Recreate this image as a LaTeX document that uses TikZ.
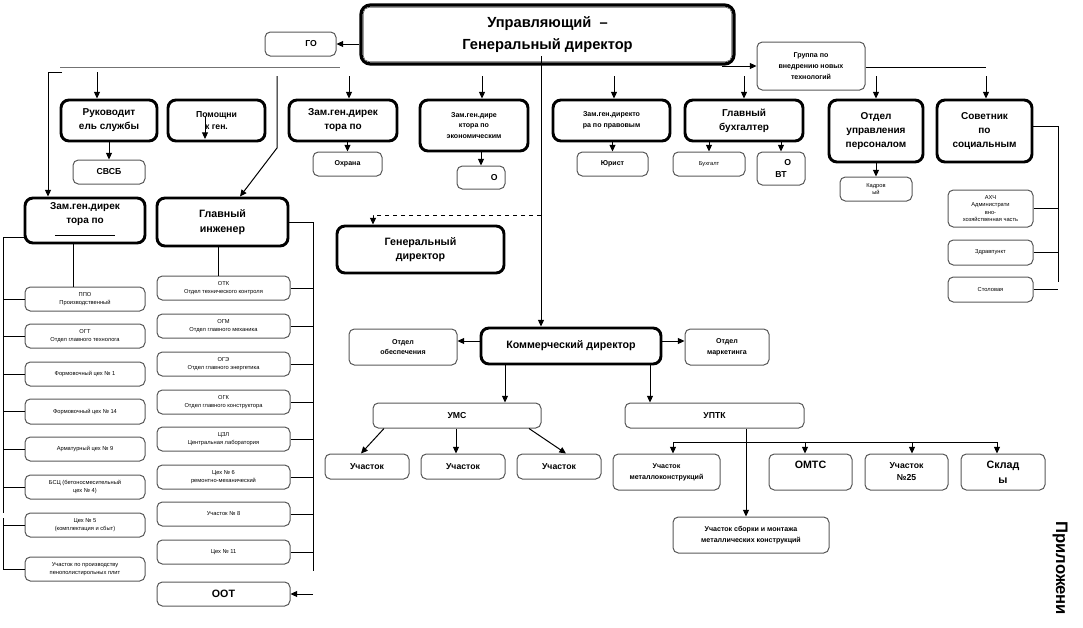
\documentclass[tikz,border=0pt]{standalone}
\usepackage{fontspec}
\setmainfont{Liberation Sans}
\usetikzlibrary{arrows.meta}
\newcommand\bx[7]{\node[#1, minimum width={(#5-#3)*0.75pt}, minimum height={(#6-#4)*0.75pt}] (#2) at ({(#3+#5)/2},{(#4+#6)/2}) {#7};}
\begin{document}
\begin{tikzpicture}[x=0.75pt,y=-0.75pt,
  fXL/.style={font=\bfseries\fontsize{11}{16.5}\selectfont},
  fL/.style={font=\bfseries\fontsize{8}{11}\selectfont},
  fB/.style={font=\bfseries\fontsize{7.5}{10.5}\selectfont},
  fM/.style={font=\bfseries\fontsize{6.5}{9}\selectfont},
  fS/.style={font=\bfseries\fontsize{5.3}{8}\selectfont},
  fT/.style={font=\fontsize{4.3}{5.6}\selectfont},
  mainbox/.style={draw=black, line width=2.4pt, rounded corners=7pt, fill=white, inner sep=0pt, align=center, fXL},
  thickbox/.style={draw=black, line width=2.2pt, rounded corners=6pt, fill=white, inner sep=0pt, align=center, fB},
  thinbox/.style={draw=black!65, line width=0.75pt, rounded corners=4pt, fill=white, inner sep=0pt, align=center},
  arr/.style={-{Triangle[length=5pt,width=4.5pt]}, line width=0.75pt},
  ln/.style={line width=0.75pt},
]
\path[use as bounding box] (0,0) rectangle (1083,628);

% ---------- top ----------
\bx{mainbox}{main}{361}{5}{734}{64}{Управляющий \ –\\Генеральный директор}
\draw[line width=0.5pt, black!60, rounded corners=4pt] ([shift={(4,4)}]main.north west) rectangle ([shift={(-4,-4)}]main.south east);
\bx{thinbox,fM}{go}{265}{32}{336}{56}{\hspace*{16pt}ГО}
\bx{thinbox,fS}{grp}{757}{42}{865}{90}{Группа по\\внедрению новых\\технологий}

% ---------- row 2 ----------
\bx{thickbox}{ruk}{61}{100}{157}{141}{Руководит\\ель службы}
\bx{thickbox,fM}{pom}{168}{100}{265}{141}{Помощни\\к ген.}
\bx{thickbox}{zamoh}{289}{100}{397}{141}{Зам.ген.дирек\\тора по}
\bx{thickbox,fS}{zamec}{420}{100}{528}{151}{Зам.ген.дире\\ктора по\\экономическим}
\bx{thickbox,fS}{zampra}{553}{100}{670}{141}{Зам.ген.директо\\ра по правовым}
\bx{thickbox}{glbuh}{685}{100}{803}{141}{Главный\\бухгалтер}
\bx{thickbox}{otdup}{829}{100}{923}{162}{Отдел\\управления\\персоналом}
\bx{thickbox}{sov}{937}{100}{1032}{162}{Советник\\по\\социальным}

% ---------- row 3 ----------
\bx{thinbox,fM}{svsb}{73}{160}{145}{184}{СВСБ}
\bx{thinbox,fS}{ohr}{313}{152}{382}{176}{Охрана}
\bx{thinbox,fM}{oe}{457}{166}{505}{189}{\hspace*{20pt}О}
\bx{thinbox,fS}{jur}{577}{152}{648}{176}{Юрист}
\bx{thinbox,fT}{buh}{673}{152}{745}{176}{Бухгалт}
\bx{thinbox,fM}{ovt}{757}{152}{805}{185}{\hspace*{10pt}О\\ВТ}
\bx{thinbox,fT}{kadr}{840}{177}{912}{201}{Кадров\\ый}

% ---------- left column ----------
\bx{thickbox}{zampr}{25}{198}{145}{243}{Зам.ген.дирек\\тора по\\\rule[2pt]{45pt}{0.4pt}}
\bx{thickbox,fL}{glinz}{157}{198}{288}{246}{Главный\\инженер}
\bx{thinbox,fT}{l1}{25}{287}{145}{311}{ППО\\Производственный}
\bx{thinbox,fT}{l2}{25}{324}{145}{348}{ОГТ\\Отдел главного технолога}
\bx{thinbox,fT}{l3}{25}{362}{145}{386}{Формовочный цех № 1}
\bx{thinbox,fT}{l4}{25}{399}{145}{424}{Формовочный цех № 14}
\bx{thinbox,fT}{l5}{25}{437}{145}{461}{Арматурный цех № 9}
\bx{thinbox,fT}{l6}{25}{475}{145}{499}{БСЦ (бетоносмесительный\\цех № 4)}
\bx{thinbox,fT}{l7}{25}{513}{145}{537}{Цех № 5\\(комплектация и сбыт)}
\bx{thinbox,fT}{l8}{25}{557}{145}{581}{Участок по производству\\пенополистирольных плит}

% ---------- right-of-left column ----------
\bx{thinbox,fT}{r1}{157}{276}{290}{300}{ОТК\\Отдел технического контроля}
\bx{thinbox,fT}{r2}{157}{314}{290}{338}{ОГМ\\Отдел главного механика}
\bx{thinbox,fT}{r3}{157}{352}{290}{376}{ОГЭ\\Отдел главного энергетика}
\bx{thinbox,fT}{r4}{157}{390}{290}{414}{ОГК\\Отдел главного конструктора}
\bx{thinbox,fT}{r5}{157}{427}{290}{451}{ЦЗЛ\\Центральная лаборатория}
\bx{thinbox,fT}{r6}{157}{465}{290}{489}{Цех № 6\\ремонтно-механический}
\bx{thinbox,fT}{r7}{157}{502}{290}{526}{Участок № 8}
\bx{thinbox,fT}{r8}{157}{540}{290}{564}{Цех № 11}
\bx{thinbox,fL}{oot}{157}{582}{290}{606}{ООТ}

% ---------- middle ----------
\bx{thickbox,fL}{gendir}{337}{226}{504}{273}{Генеральный\\директор}
\bx{thickbox,fL}{kom}{481}{328}{661}{364}{Коммерческий директор}
\bx{thinbox,fS}{obesp}{349}{329}{457}{365}{Отдел\\обеспечения}
\bx{thinbox,fS}{mark}{685}{329}{769}{365}{Отдел\\маркетинга}
\bx{thinbox,fM}{ums}{373}{403}{541}{428}{УМС}
\bx{thinbox,fM}{uptk}{625}{403}{804}{428}{УПТК}
\bx{thinbox,fM}{u1}{325}{454}{409}{479}{Участок}
\bx{thinbox,fM}{u2}{421}{454}{505}{479}{Участок}
\bx{thinbox,fM}{u3}{517}{454}{601}{479}{Участок}
\bx{thinbox,fS}{v1}{613}{454}{720}{490}{Участок\\металлоконструкций}
\bx{thinbox,fL}{v2}{769}{454}{852}{490}{ОМТС\\\mbox{}}
\bx{thinbox,fM}{v3}{865}{454}{948}{490}{Участок\\№25}
\bx{thinbox,fL}{v4}{961}{454}{1045}{490}{Склад\\ы}
\bx{thinbox,fS}{v5}{673}{517}{829}{553}{Участок сборки и монтажа\\металлических конструкций}

% ---------- right ----------
\bx{thinbox,fT}{s1}{948}{190}{1033}{227}{АХЧ\\Администрати\\вно-\\хозяйственная часть}
\bx{thinbox,fT}{s2}{948}{240}{1033}{265}{Здравпункт}
\bx{thinbox,fT}{s3}{948}{277}{1033}{302}{Столовая}

\node[rotate=-90, anchor=west, font=\bfseries\fontsize{12.5}{14}\selectfont, inner sep=0pt] (pril) at (1060,521) {Приложени};

% ---------- connectors ----------
\draw[arr] (main.west |- go) -- (go.east);
\coordinate (hl1) at (60,67); \coordinate (hl2) at (340,67);
\draw[ln, black!55] (hl1) -- (hl2);
\coordinate (ltop) at (62,72); \coordinate (lcorner) at (48,72);
\draw[arr] (ltop) -- (lcorner) -- (zampr.north -| lcorner);
\coordinate (a1) at (97,72);
\draw[arr] (a1) -- (ruk.north -| a1);
\coordinate (b1) at (277,76); \coordinate (b2) at (277,148); \coordinate (b3) at (240,0);
\draw[arr] (b1) -- (b2) -- (b3 |- glinz.north);
\foreach \xx/\tg in {349/zamoh, 482/zamec, 614/zampra, 744/glbuh, 876/otdup, 986/sov}{
  \coordinate (c\tg) at (\xx,76);
  \draw[arr] (c\tg) -- (\tg.north -| c\tg);
}
\coordinate (d1) at (722,66);
\draw[arr] (d1) -- (grp.west);
\coordinate (d2) at (986,67);
\draw[ln] (grp.east |- d2) -- (d2);
\coordinate (m1) at (541,56);
\draw[arr] (m1) -- (kom.north -| m1);
\coordinate (m2) at (541,215); \coordinate (m3) at (373,215);
\draw[arr, dashed] (m2) -- (m3) -- (gendir.north -| m3);
\coordinate (p1) at (205,117); \coordinate (p2) at (205,139);
\draw[arr] (p1) -- (p2);

\draw[arr] (svsb.north |- ruk.south) -- (svsb.north);
\draw[arr] (ohr.north |- zamoh.south) -- (ohr.north);
\draw[arr] (oe.north |- zamec.south) -- (oe.north);
\draw[arr] (jur.north |- zampra.south) -- (jur.north);
\draw[arr] (buh.north |- glbuh.south) -- (buh.north);
\draw[arr] (ovt.north |- glbuh.south) -- (ovt.north);
\draw[arr] (kadr.north |- otdup.south) -- (kadr.north);

% left bracket
\coordinate (e0) at (73,0);
\draw[ln] (zampr.south -| e0) -- (l1.north -| e0);
\coordinate (lbt) at (3,237); \coordinate (lbb) at (3,513);
\draw[ln] (zampr.west |- lbt) -- (lbt) -- (lbb);
\coordinate (lb2t) at (3,518); \coordinate (lb2b) at (3,569);
\draw[ln] (lb2t) -- (lb2b);
\foreach \n in {l1,l2,l3,l4,l5,l6,l7,l8}{ \draw[ln] (\n.west) -- (\n.west -| lbt); }

% right bracket of chief engineer
\coordinate (f0) at (218,0);
\draw[ln] (glinz.south -| f0) -- (r1.north -| f0);
\coordinate (rbt) at (313,222); \coordinate (rbb) at (313,571);
\draw[ln] (glinz.east |- rbt) -- (rbt) -- (rbb);
\foreach \n in {r1,r2,r3,r4,r5,r6,r7,r8}{ \draw[ln] (\n.east) -- (\n.east -| rbt); }
\coordinate (oo) at (313,594);
\draw[arr] (oo) -- (oot.east);

% commercial director
\coordinate (kc) at (0,341);
\draw[arr] (kom.west |- kc) -- (obesp.east |- kc);
\draw[arr] (kom.east |- kc) -- (mark.west |- kc);
\coordinate (g1) at (505,0); \coordinate (g2) at (650,0);
\draw[arr] (kom.south -| g1) -- (ums.north -| g1);
\draw[arr] (kom.south -| g2) -- (uptk.north -| g2);
\coordinate (h1) at (384,0); \coordinate (h1b) at (361,0);
\coordinate (h2) at (456,0);
\coordinate (h3) at (529,0); \coordinate (h3b) at (566,0);
\draw[arr] (ums.south -| h1) -- (u1.north -| h1b);
\draw[arr] (ums.south -| h2) -- (u2.north -| h2);
\draw[arr] (ums.south -| h3) -- (u3.north -| h3b);
\coordinate (k1) at (673,442); \coordinate (k2) at (997,442);
\coordinate (k3) at (805,442); \coordinate (k4) at (912,442);
\coordinate (k5) at (746,0);
\draw[ln] (k1) -- (k2);
\draw[arr] (k1) -- (v1.north -| k1);
\draw[arr] (k3) -- (v2.north -| k3);
\draw[arr] (k4) -- (v3.north -| k4);
\draw[arr] (k2) -- (v4.north -| k2);
\draw[arr] (uptk.south -| k5) -- (v5.north -| k5);

% adviser bracket
\coordinate (sbt) at (1058,126); \coordinate (sbb) at (1058,282);
\draw[ln] (sov.east |- sbt) -- (sbt) -- (sbb);
\foreach \n in {s1,s2,s3}{ \draw[ln] (\n.east) -- (\n.east -| sbt); }
\end{tikzpicture}
\end{document}
